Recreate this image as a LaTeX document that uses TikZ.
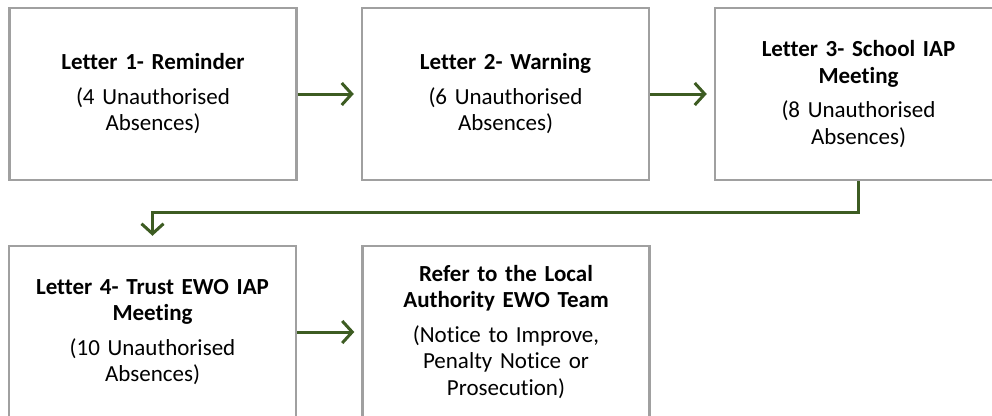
\documentclass[tikz,border=0pt]{standalone}
\usepackage{fontspec}
\setmainfont[Ligatures=NoCommon]{Carlito}
\usetikzlibrary{arrows.meta}
\definecolor{boxgrey}{HTML}{A0A0A0}
\definecolor{arrgreen}{HTML}{3D5C22}
\begin{document}
\begin{tikzpicture}[x=1pt,y=-1pt,
  stepbox/.style={draw=boxgrey, line width=2.5pt, fill=white, minimum width=287pt, minimum height=172pt,
    text width=280pt, align=center, inner sep=0pt, font=\fontsize{23}{26.5}\selectfont},
  arr/.style={draw=arrgreen, line width=3pt, -{Straight Barb[length=10pt,width=22pt]}}]
\useasboundingbox (0,0) rectangle (992,415);
\node[stepbox] (b1) at (153,94) {\textbf{Letter 1- Reminder}\\[8pt](4 Unauthorised\\Absences)};
\node[stepbox] (b2) at (505.5,94) {\textbf{Letter 2- Warning}\\[8pt](6 Unauthorised\\Absences)};
\node[stepbox] (b3) at (858.5,94) {\textbf{Letter 3- School IAP}\\\textbf{Meeting}\\[8pt](8 Unauthorised\\Absences)};
\node[stepbox] (b4) at (152.5,332) {\textbf{Letter 4- Trust EWO IAP}\\\textbf{Meeting}\\[8pt](10 Unauthorised\\Absences)};
\node[stepbox] (b5) at (506,332) {\textbf{Refer to the Local}\\\textbf{Authority EWO Team}\\[8pt](Notice to Improve,\\Penalty Notice or\\Prosecution)};
\draw[arr, shorten >=7pt] (b1.east) -- (b2.west);
\draw[arr, shorten >=7pt] (b2.east) -- (b3.west);
\draw[arr, shorten >=7pt] (b4.east) -- (b5.west);
\coordinate (m) at (0,212);
\draw[arr, shorten >=9pt] (b3.south) |- (m -| b4.north) -- (b4.north);
\end{tikzpicture}
\end{document}
